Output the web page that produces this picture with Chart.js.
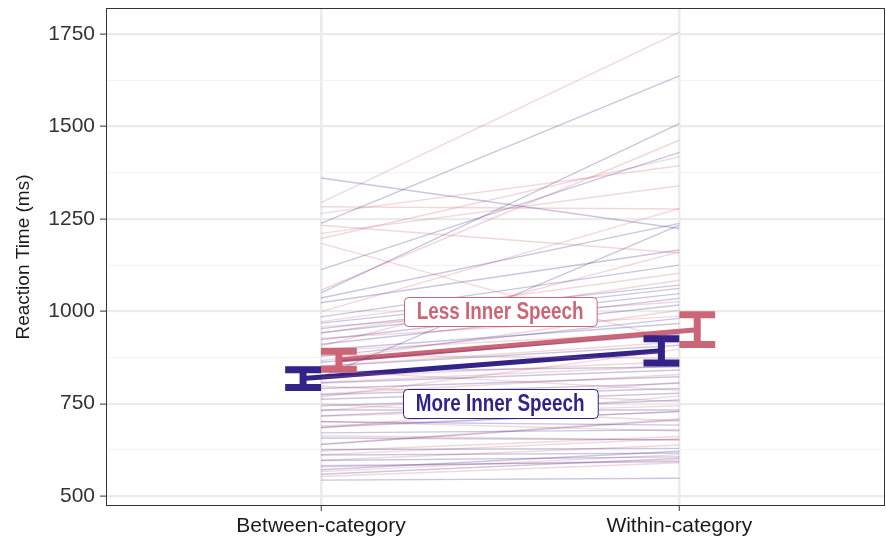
<!DOCTYPE html>
<html>
<head>
<meta charset="utf-8">
<script src="https://cdn.jsdelivr.net/npm/chart.js@4.4.1/dist/chart.umd.min.js"></script>
<style>
  html, body { margin: 0; padding: 0; background: #fff; }
</style>
</head>
<body>
<canvas id="rtChart" width="886" height="540"></canvas>
<script>
const categories = ['Between-category', 'Within-category'];
const yTicks = [500, 625, 750, 875, 1000, 1125, 1250, 1375, 1500, 1625, 1750];

// single participants - less inner speech
const lessBetween = [1294, 1283, 1265, 1233, 1211, 1197, 1184, 1057, 999, 972, 958, 941, 927, 906, 893, 881, 866, 852, 839, 821, 808, 797, 776, 768, 749, 731, 716, 702, 684, 663, 641, 622, 597, 579, 566, 553, 612, 690];
const lessWithin = [1756, 1277, 1394, 1158, 1340, 1418, 918, 1463, 1278, 1103, 1026, 1084, 987, 1161, 944, 873, 1003, 917, 786, 864, 852, 756, 829, 897, 703, 808, 744, 676, 771, 652, 709, 661, 638, 597, 612, 590, 655, 728];

// single participants - more inner speech
const moreBetween = [1361, 1238, 1050, 1113, 1036, 1023, 985, 968, 953, 942, 923, 911, 896, 878, 862, 851, 836, 822, 806, 791, 774, 762, 744, 733, 717, 701, 686, 671, 657, 639, 626, 611, 596, 582, 571, 559, 543];
const moreWithin = [1224, 1637, 1508, 1430, 1238, 1166, 1125, 1071, 1062, 1048, 1035, 1017, 967, 981, 938, 908, 850, 1233, 841, 823, 805, 791, 778, 733, 760, 692, 729, 679, 652, 706, 629, 616, 606, 593, 621, 602, 548];

// group means + error bars
const lessMean = [868, 950];
const lessLow = [843, 910];
const lessHigh = [892, 991];
const moreMean = [818, 893];
const moreLow = [794, 860];
const moreHigh = [842, 926];

const PINK = '#CC6677';
const PURPLE = '#332288';
const dodge = 0.05;

const datasets = [];
const n = Math.max(lessBetween.length, moreBetween.length);
for (let i = 0; i < n; i++) {
    if (i < moreBetween.length) {
        datasets.push({
            data: [{x: 1, y: moreBetween[i]}, {x: 2, y: moreWithin[i]}],
            borderColor: 'rgba(51,34,136,0.26)',
            borderWidth: 1.4
        });
    }
    if (i < lessBetween.length) {
        datasets.push({
            data: [{x: 1, y: lessBetween[i]}, {x: 2, y: lessWithin[i]}],
            borderColor: 'rgba(204,102,119,0.26)',
            borderWidth: 1.4
        });
    }
}
datasets.push({
    data: [{x: 1 + dodge, y: lessMean[0]}, {x: 2 + dodge, y: lessMean[1]}],
    borderColor: PINK,
    borderWidth: 5
});
datasets.push({
    data: [{x: 1 - dodge, y: moreMean[0]}, {x: 2 - dodge, y: moreMean[1]}],
    borderColor: PURPLE,
    borderWidth: 5
});

const errorBars = {
    id: 'errorBars',
    afterDatasetsDraw(chart) {
        const {ctx, scales: {x, y}} = chart;
        const groups = [
            [moreLow, moreHigh, -dodge, PURPLE],
            [lessLow, lessHigh, dodge, PINK]
        ];
        ctx.save();
        groups.forEach(([lo, hi, off, col]) => {
            for (let i = 0; i < 2; i++) {
                const cx = x.getPixelForValue(i + 1 + off);
                const half = x.getPixelForValue(i + 1 + off + 0.05) - cx;
                const yl = y.getPixelForValue(lo[i]);
                const yh = y.getPixelForValue(hi[i]);
                ctx.strokeStyle = col;
                ctx.lineWidth = 7;
                ctx.lineCap = 'butt';
                ctx.beginPath();
                ctx.moveTo(cx, yl); ctx.lineTo(cx, yh);
                ctx.moveTo(cx - half, yl); ctx.lineTo(cx + half, yl);
                ctx.moveTo(cx - half, yh); ctx.lineTo(cx + half, yh);
                ctx.stroke();
            }
        });
        ctx.restore();
    }
};

function roundBox(ctx, x, y, w, h, r) {
    ctx.beginPath();
    ctx.moveTo(x + r, y);
    ctx.arcTo(x + w, y, x + w, y + h, r);
    ctx.arcTo(x + w, y + h, x, y + h, r);
    ctx.arcTo(x, y + h, x, y, r);
    ctx.arcTo(x, y, x + w, y, r);
    ctx.closePath();
}

// labels in a narrow bold face: Liberation Sans Bold squeezed horizontally
const groupLabels = {
    id: 'groupLabels',
    afterDatasetsDraw(chart) {
        const {ctx, scales: {x, y}} = chart;
        const items = [
            ['Less Inner Speech', 1000, PINK],
            ['More Inner Speech', 750, PURPLE]
        ];
        const squeeze = 0.82;
        ctx.save();
        ctx.font = 'bold 23px "Liberation Sans", Arial, sans-serif';
        ctx.textAlign = 'center';
        ctx.textBaseline = 'middle';
        items.forEach(([txt, v, col]) => {
            const cx = x.getPixelForValue(1.5);
            const cy = y.getPixelForValue(v);
            const w = ctx.measureText(txt).width * squeeze + 26;
            const h = 29;
            roundBox(ctx, Math.round(cx - w / 2) + 0.5, Math.round(cy - h / 2) + 0.5, w, h, 4);
            ctx.fillStyle = '#fff';
            ctx.fill();
            ctx.strokeStyle = col;
            ctx.lineWidth = 1;
            ctx.stroke();
            ctx.save();
            ctx.translate(cx, cy + 1);
            ctx.scale(squeeze, 1);
            ctx.fillStyle = col;
            ctx.fillText(txt, 0, 0);
            ctx.restore();
        });
        ctx.restore();
    }
};

const panelBorder = {
    id: 'panelBorder',
    afterDraw(chart) {
        const {ctx, chartArea: a} = chart;
        ctx.save();
        ctx.strokeStyle = '#333';
        ctx.lineWidth = 1;
        ctx.strokeRect(a.left + 0.5, a.top + 0.5, a.right - a.left - 1, a.bottom - a.top - 1);
        ctx.restore();
    }
};

const ctx = document.getElementById('rtChart').getContext('2d');
const chart = new Chart(ctx, {
    type: 'line',
    data: { datasets: datasets },
    options: {
        responsive: false,
        devicePixelRatio: 1,
        animation: false,
        elements: { point: { radius: 0 }, line: { tension: 0 } },
        layout: { padding: { top: 8, right: 1, left: 0, bottom: 0 } },
        plugins: { legend: { display: false }, tooltip: { enabled: false } },
        scales: {
            x: {
                type: 'linear',
                min: 0.4,
                max: 2.574,
                afterBuildTicks: s => { s.ticks = [{value: 1}, {value: 2}]; },
                afterFit: s => { s.height = 34; s.paddingLeft = 0; s.paddingRight = 0; },
                border: { display: false },
                grid: { color: '#ebebeb', lineWidth: 2.5, tickColor: '#333', tickWidth: 1, tickLength: 5 },
                ticks: {
                    color: '#1a1a1a',
                    padding: 3,
                    maxRotation: 0,
                    font: { family: '"Liberation Sans", Arial, sans-serif', size: 21 },
                    callback: v => categories[v - 1]
                }
            },
            y: {
                min: 473,
                max: 1821,
                afterBuildTicks: s => { s.ticks = yTicks.map(v => ({value: v})); },
                afterFit: s => { s.width = 106; s.paddingTop = 0; s.paddingBottom = 0; },
                border: { display: false },
                grid: {
                    color: c => (c.tick && c.tick.value % 250 === 0) ? '#ebebeb' : '#f3f3f3',
                    lineWidth: c => (c.tick && c.tick.value % 250 === 0) ? 2.2 : 1,
                    tickColor: c => (c.tick && c.tick.value % 250 === 0) ? '#333' : 'rgba(0,0,0,0)',
                    tickWidth: 1,
                    tickLength: 6
                },
                ticks: {
                    color: '#333',
                    padding: 5,
                    font: { family: '"Liberation Sans", Arial, sans-serif', size: 21 },
                    callback: v => (v % 250 === 0) ? String(v) : ''
                },
                title: {
                    display: true,
                    text: 'Reaction Time (ms)',
                    color: '#1a1a1a',
                    padding: { top: 12, bottom: 0 },
                    font: { family: '"Liberation Sans", Arial, sans-serif', size: 19 }
                }
            }
        }
    },
    plugins: [errorBars, groupLabels, panelBorder]
});
</script>
</body>
</html>
